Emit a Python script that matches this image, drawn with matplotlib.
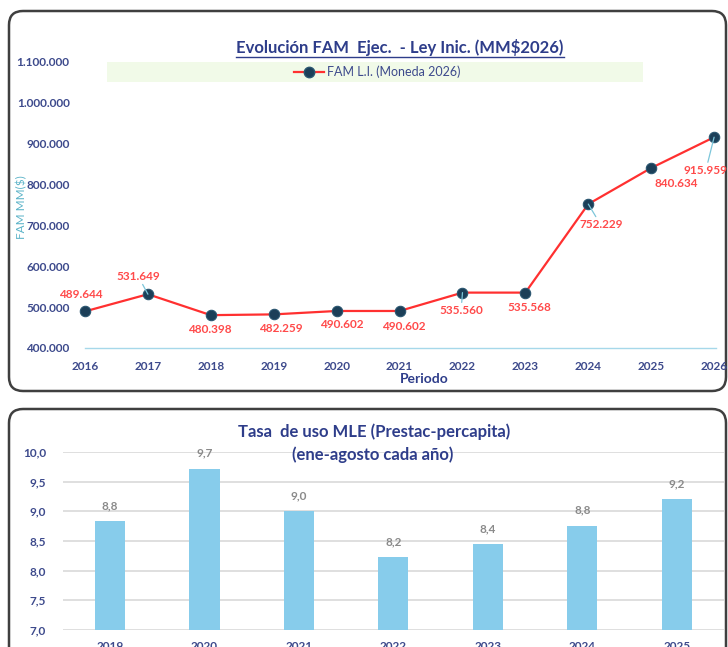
import matplotlib
matplotlib.use('Agg')
import matplotlib.pyplot as plt
from matplotlib.patches import FancyBboxPatch, Rectangle
from matplotlib.lines import Line2D

plt.rcParams['font.family'] = ['Lato', 'DejaVu Sans']

# datos grafico superior
years = [2016, 2017, 2018, 2019, 2020, 2021, 2022, 2023, 2024, 2025, 2026]
fam = [489644, 531649, 480398, 482259, 490602, 490602, 535560, 535568, 752229, 840634, 915959]
fam_labels = ['489.644', '531.649', '480.398', '482.259', '490.602', '490.602',
              '535.560', '535.568', '752.229', '840.634', '915.959']
y_ticks = [400000, 500000, 600000, 700000, 800000, 900000, 1000000, 1100000]
y_tick_labels = ['400.000', '500.000', '600.000', '700.000', '800.000', '900.000',
                 '1.000.000', '1.100.000']

# datos grafico inferior
bar_years = ['2019', '2020', '2021', '2022', '2023', '2024', '2025']
tasa = [8.84, 9.72, 9.0, 8.23, 8.45, 8.76, 9.21]
tasa_labels = ['8,8', '9,7', '9,0', '8,2', '8,4', '8,8', '9,2']
tasa_ticks = [7.0, 7.5, 8.0, 8.5, 9.0, 9.5, 10.0]
tasa_tick_labels = ['7,0', '7,5', '8,0', '8,5', '9,0', '9,5', '10,0']

navy = '#2E3D8A'
tick_col = '#3D4A8C'
red = '#FF3030'
label_red = '#FF4A4A'

W, H = 728, 647
fig = plt.figure(figsize=(W / 100, H / 100), dpi=100)

# capa de fondo en pixeles
bg = fig.add_axes([0, 0, 1, 1])
bg.set_xlim(0, W)
bg.set_ylim(H, 0)
bg.axis('off')
bg.add_patch(FancyBboxPatch((9, 11), 717, 380, boxstyle='round,pad=0,rounding_size=14',
                            fc='white', ec='#3F3F3F', lw=1.8))
bg.add_patch(FancyBboxPatch((9, 409), 717, 260, boxstyle='round,pad=0,rounding_size=14',
                            fc='white', ec='#3F3F3F', lw=1.8))
bg.add_patch(Rectangle((107, 62), 536, 20, fc='#F1FAE8', ec='none'))


def px_axes(x0, y0, x1, y1):
    return fig.add_axes([x0 / W, 1 - y1 / H, (x1 - x0) / W, (y1 - y0) / H])


# ---- grafico superior ----
ax = px_axes(85, 62, 716, 348)
ax.plot(years, fam, color=red, lw=1.6, zorder=2, clip_on=False)
ax.plot(years, fam, 'o', ms=7.5, mfc='#1C3F58', mec='#2A5670', mew=0.8, zorder=3, clip_on=False)
ax.set_xlim(2016, 2026.03)
ax.set_ylim(400000, 1100000)
ax.set_yticks(y_ticks)
ax.set_yticklabels(y_tick_labels)
ax.set_xticks(years)
ax.tick_params(length=0, labelsize=8.5, colors=tick_col)
ax.tick_params(axis='y', pad=11)
ax.tick_params(axis='x', pad=9)
for t in ax.get_xticklabels() + ax.get_yticklabels():
    t.set_fontweight('bold')
for s in ['top', 'right', 'left']:
    ax.spines[s].set_visible(False)
ax.spines['bottom'].set_color('#A6D8EA')
ax.spines['bottom'].set_linewidth(1.0)
ax.patch.set_alpha(0)

# posicion de etiquetas (puntos de desplazamiento) y linea guia
offsets = [(-3, 12), (-7, 13), (-1, -10), (5, -10), (4, -10), (3, -11),
           (-1, -13), (3, -11), (9, -15), (18, -11), (-6, -24)]
leaders = [False, True, False, False, False, False, True, False, True, False, True]
for x, y, lab, (dx, dy), ld in zip(years, fam, fam_labels, offsets, leaders):
    ap = dict(arrowstyle='-', color='#7CC6DA', lw=0.9, shrinkA=0, shrinkB=0) if ld else None
    ax.annotate(lab, (x, y), xytext=(dx, dy), textcoords='offset points',
                ha='center', va='center', fontsize=8.5, fontweight='bold',
                color=label_red, arrowprops=ap, zorder=4, annotation_clip=False)

ax.set_xlabel('Periodo', fontsize=10, fontweight='bold', color=navy)
ax.xaxis.set_label_coords(0.537, -0.088)
fig.text(22 / W, 1 - 207 / H, 'FAM MM(\\$)', rotation=90, ha='center', va='center',
         fontsize=8.5, color='#5BB3C8')

title = fig.text(400 / W, 1 - 47 / H, 'Evolución FAM  Ejec.  - Ley Inic. (MM\\$2026)',
                 ha='center', va='center', fontsize=12, fontweight='bold', color=navy)
fig.canvas.draw()
tb = title.get_window_extent()
bg.plot([tb.x0, tb.x1], [H - tb.y0 + 1, H - tb.y0 + 1], color=navy, lw=1.0)

handle = Line2D([], [], color=red, lw=1.6, marker='o', ms=7.5, mfc='#1C3F58', mec='#2A5670')
fig.legend([handle], ['FAM L.I. (Moneda 2026)'], loc='center', bbox_to_anchor=(377 / W, 1 - 72 / H),
           frameon=False, fontsize=9, labelcolor=tick_col, handlelength=2.4, handletextpad=0.25)

# ---- grafico inferior ----
bx = px_axes(62.75, 452, 724, 630)
pos = list(range(len(bar_years)))
bx.bar(pos, tasa, width=0.32, color='#87CCEB', zorder=2)
bx.set_ylim(7.0, 10.0)
bx.set_xlim(-0.5, 6.5)
bx.set_yticks(tasa_ticks)
bx.set_yticklabels(tasa_tick_labels)
bx.set_xticks(pos)
bx.set_xticklabels(bar_years)
bx.grid(axis='y', color='#D9D9D9', lw=1.2, zorder=0)
bx.tick_params(length=0, labelsize=8.5, colors=tick_col)
bx.tick_params(axis='y', pad=12)
bx.tick_params(axis='x', pad=8)
for t in bx.get_xticklabels() + bx.get_yticklabels():
    t.set_fontweight('bold')
for s in bx.spines.values():
    s.set_visible(False)
bx.patch.set_alpha(0)
for p, v, lab in zip(pos, tasa, tasa_labels):
    bx.annotate(lab, (p, v), xytext=(0, 11), textcoords='offset points', ha='center',
                va='center', fontsize=8.5, fontweight='bold', color='#8A8A8A')

fig.text(374 / W, 1 - 432 / H, 'Tasa  de uso MLE (Prestac-percapita)', ha='center', va='center',
         fontsize=12, fontweight='bold', color=navy)
fig.text(373 / W, 1 - 455 / H, '(ene-agosto cada año)', ha='center', va='center',
         fontsize=12, fontweight='bold', color=navy)

fig.savefig('out.png', dpi=100)
